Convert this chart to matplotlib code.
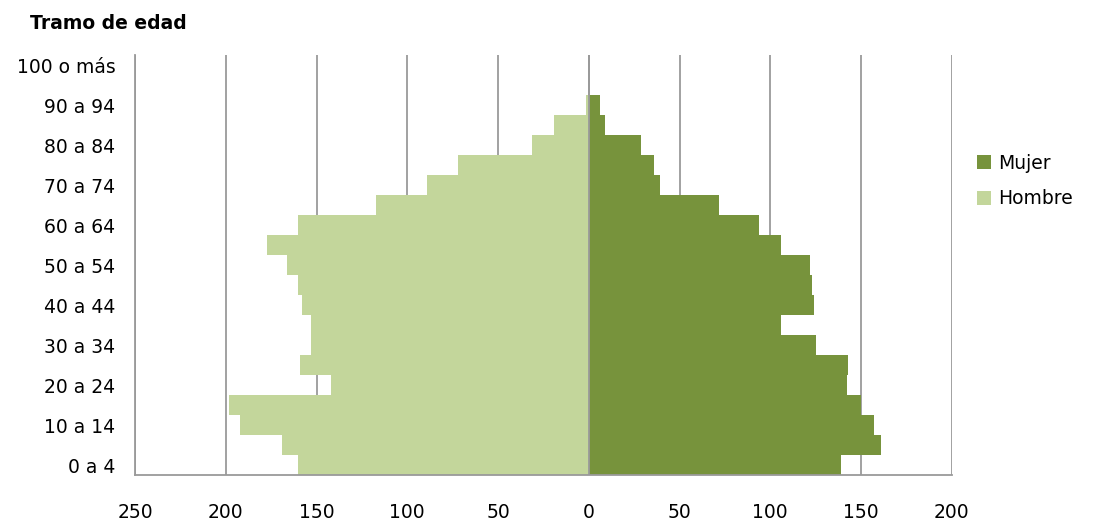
import numpy as np
import matplotlib.pyplot as plt

# Age groups (bottom to top)
tramos = ['0 a 4', '5 a 9', '10 a 14', '15 a 19', '20 a 24', '25 a 29', '30 a 34',
          '35 a 39', '40 a 44', '45 a 49', '50 a 54', '55 a 59', '60 a 64', '65 a 69',
          '70 a 74', '75 a 79', '80 a 84', '85 a 89', '90 a 94', '95 a 99', '100 o más']
mujer = [139, 161, 157, 150, 142, 143, 125, 106, 124, 123, 122, 106, 94, 72,
         39, 36, 29, 9, 6, 0, 0]
hombre = [160, 169, 192, 198, 142, 159, 153, 153, 158, 160, 166, 177, 160, 117,
          89, 72, 31, 19, 1.5, 0, 0]
x_ticks = [-250, -200, -150, -100, -50, 0, 50, 100, 150, 200]

color_mujer = '#77933C'
color_hombre = '#C3D69B'
grid_color = '#9a9a9a'

fig = plt.figure(figsize=(10.94, 5.24), dpi=100)
ax = fig.add_axes([0.1234, 0.0935, 0.7466, 0.8015])

y = np.arange(len(tramos))
ax.barh(y, mujer, height=1.0, color=color_mujer, label='Mujer', zorder=2)
ax.barh(y, -np.array(hombre), height=1.0, color=color_hombre, label='Hombre', zorder=2)

ax.set_xlim(-250, 200)
ax.set_ylim(-0.5, len(tramos) - 0.5)
ax.set_xticks(x_ticks)
ax.set_xticklabels([str(abs(v)) for v in x_ticks], fontsize=13.5)
ax.set_yticks(y[::2])
ax.set_yticklabels(tramos[::2], fontsize=13.5)
ax.tick_params(axis='both', length=0)
ax.tick_params(axis='x', pad=20)
ax.tick_params(axis='y', pad=14)

ax.grid(axis='x', color=grid_color, linewidth=1.3, zorder=1)
ax.axvline(0, color=grid_color, linewidth=1.3, zorder=3)

for s in ['top', 'right']:
    ax.spines[s].set_visible(False)
for s in ['left', 'bottom']:
    ax.spines[s].set_color(grid_color)
    ax.spines[s].set_linewidth(1.3)

fig.text(0.027, 0.955, 'Tramo de edad', fontsize=13.5, fontweight='bold', va='center')

ax.legend(loc='center left', bbox_to_anchor=(1.01, 0.70), frameon=False,
          fontsize=13.5, handlelength=0.75, handleheight=0.75, handletextpad=0.4,
          labelspacing=0.9)

fig.savefig('out.png', dpi=100)
